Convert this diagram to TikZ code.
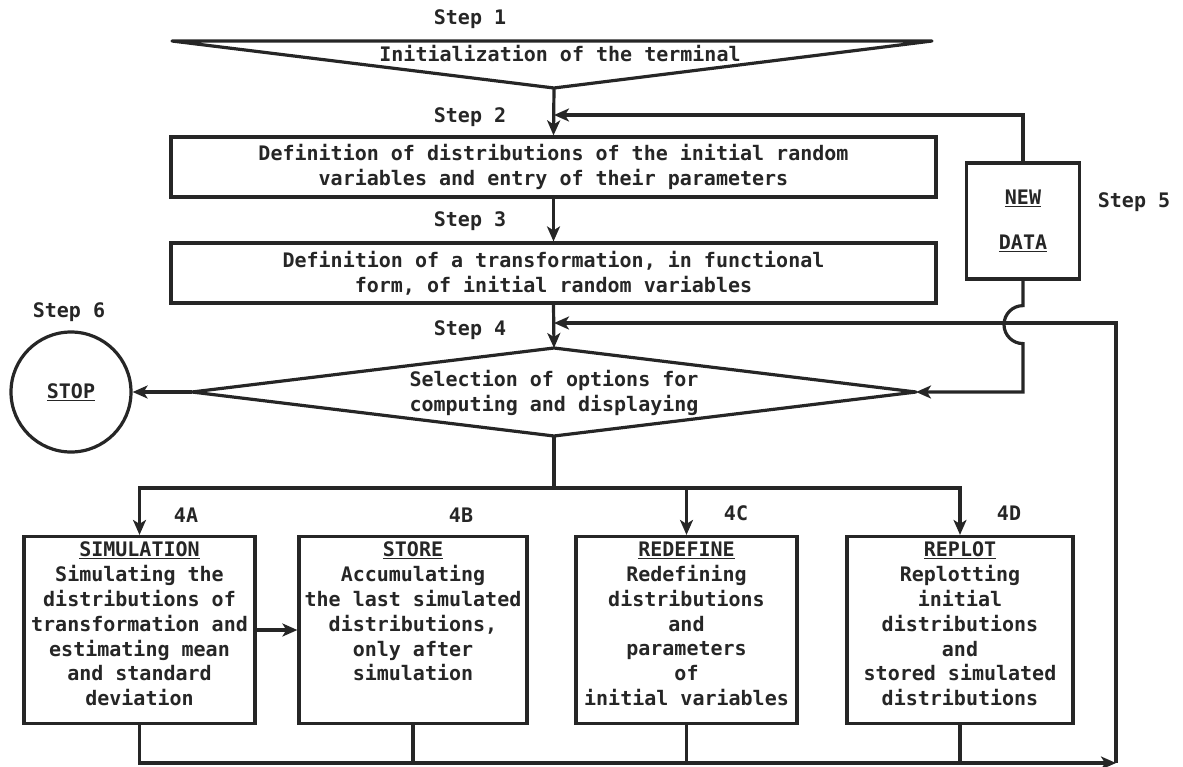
\documentclass[tikz,border=0pt]{standalone}
\usepackage{fontspec}
\setmainfont{DejaVu Sans Mono}
\usetikzlibrary{arrows.meta}
\definecolor{ink}{RGB}{38,38,38}
\begin{document}
\begin{tikzpicture}[x=1pt,y=-1pt,
  every node/.style={font=\fontsize{20}{24.8}\selectfont\bfseries, text=ink},
  line/.style={draw=ink, line width=3.2pt},
  arr/.style={line, -{Stealth[length=15pt,width=13pt,inset=4pt]}},
  box/.style={line, rectangle, inner sep=0pt},
  lbl/.style={inner sep=0pt, align=center},
]
\useasboundingbox (0,0) rectangle (1183,766);
% Step 1 terminal
\coordinate (tl) at (172,41);
\coordinate (tr) at (932,41);
\coordinate (ta) at (554,88);
\draw[line, line join=round] (tl) -- (tr) -- (ta) -- cycle;
\node[lbl] (t1) at (560,54) {Initialization of the terminal};
\node[lbl] (s1) at (470,19) {Step 1};
% Step 2
\node[box, minimum width=765pt, minimum height=60pt, align=center] (b2) at (553.5,167)
  {Definition of distributions of the initial random\\variables and entry of their parameters};
\node[lbl] (s2) at (470,117) {Step 2};
% Step 3
\node[box, minimum width=765pt, minimum height=60pt, align=center] (b3) at (553.5,273)
  {Definition of a transformation, in functional\\form, of initial random variables};
\node[lbl] (s3) at (470,221) {Step 3};
% Step 4 diamond
\coordinate (dt) at (554,348);
\coordinate (dr) at (916,392);
\coordinate (db) at (554,436);
\coordinate (dl) at (192,392);
\draw[line, line join=round] (dt) -- (dr) -- (db) -- (dl) -- cycle;
\node[lbl] (dtext) at (554,393) {Selection of options for\\computing and displaying};
\node[lbl] (s4) at (470,330) {Step 4};
% Step 6 stop
\node[line, circle, minimum size=120pt, inner sep=0pt] (stop) at (71,392) {\underline{STOP}};
\node[lbl] (s6) at (69,312) {Step 6};
% Step 5 new data
\node[box, minimum width=113pt, minimum height=116pt, align=center] (nd) at (1023,221)
  {\underline{NEW}\\[20pt]\underline{DATA}};
\node[lbl] (s5) at (1134,202) {Step 5};
% bottom boxes
\node[box, minimum width=231pt, minimum height=187pt] (sim) at (139.5,630) {};
\node[box, minimum width=228pt, minimum height=187pt] (sto) at (413,630) {};
\node[box, minimum width=221pt, minimum height=187pt] (red) at (686.5,630) {};
\node[box, minimum width=226pt, minimum height=187pt] (rep) at (960,630) {};
\node[lbl, anchor=north, yshift=-7pt] (simt) at (sim.north)
  {\underline{SIMULATION}\\Simulating the\\distributions of\\transformation and\\estimating mean\\and standard\\deviation};
\node[lbl, anchor=north, yshift=-7pt] (stot) at (sto.north)
  {\underline{STORE}\\Accumulating\\the last simulated\\distributions,\\only after\\simulation};
\node[lbl, anchor=north, yshift=-7pt] (redt) at (red.north)
  {\underline{REDEFINE}\\Redefining\\distributions\\and\\parameters\\of\\initial variables};
\node[lbl, anchor=north, yshift=-7pt] (rept) at (rep.north)
  {\underline{REPLOT}\\Replotting\\initial\\distributions\\and\\stored simulated\\distributions};
\node[lbl] (l4a) at (186,515) {4A};
\node[lbl] (l4b) at (461,515) {4B};
\node[lbl] (l4c) at (736,513) {4C};
\node[lbl] (l4d) at (1009,513) {4D};
% connectors
\coordinate (j1) at (554,115);
\coordinate (j4) at (554,323);
\coordinate (bj) at (554,488);
\coordinate (bc) at (1116,763);
\draw[arr] (ta) -- (b2.north);
\draw[arr] (nd.north) |- (j1);
\draw[arr] (b2.south) -- (b3.north);
\draw[arr] (b3.south) -- (dt);
\draw[arr] (dl) -- (stop.east);
\draw[arr] (nd.south) -- ++(0,25) arc[start angle=90, end angle=270, radius=19pt] |- (dr);
\draw[line] (db) -- (bj);
\draw[arr] (bj) -| (sim.north);
\draw[arr] (bj) -| (rep.north);
\draw[arr] (red.north |- bj) -- (red.north);
\draw[arr] (sim.east) -- (sto.west);
\draw[arr] (sim.south) |- (bc);
\draw[line] (sto.south) -- (sto.south |- bc);
\draw[line] (red.south) -- (red.south |- bc);
\draw[line] (rep.south) -- (rep.south |- bc);
\draw[arr] (bc) |- (j4);
\end{tikzpicture}
\end{document}
